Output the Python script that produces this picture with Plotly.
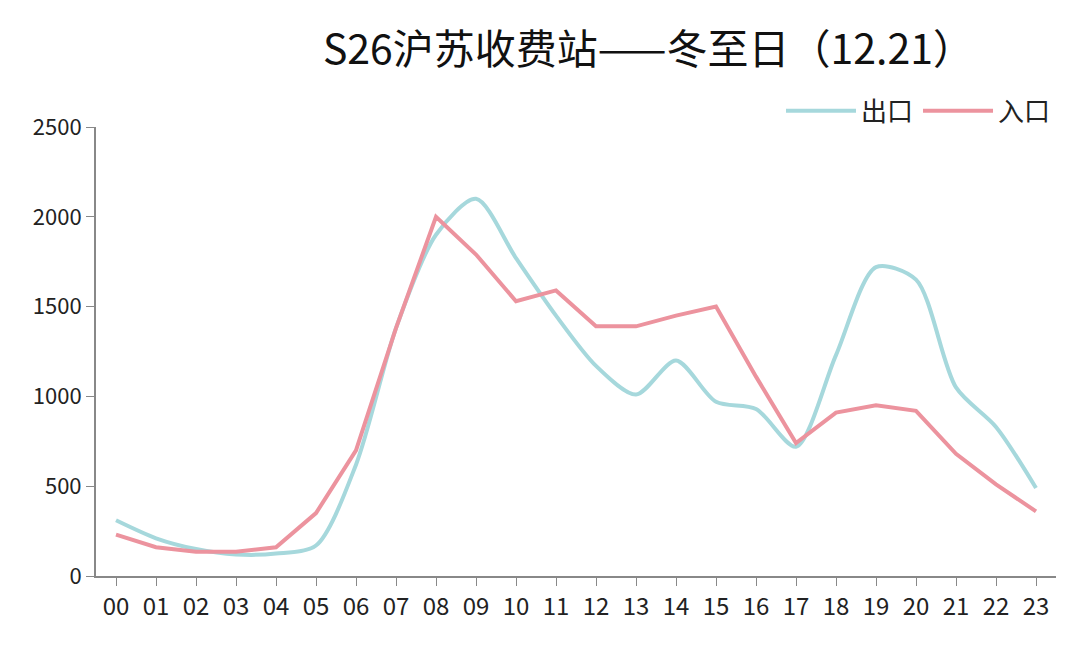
import plotly.graph_objects as go

horas = ['%02d' % h for h in range(24)]
saida = [310, 210, 150, 120, 125, 170, 620, 1380, 1900, 2100, 1770, 1450,
         1170, 1010, 1200, 970, 930, 720, 1230, 1720, 1650, 1050, 830, 490]
entrada = [230, 160, 135, 135, 160, 350, 700, 1380, 2000, 1790, 1530, 1590,
           1390, 1390, 1450, 1500, 1110, 740, 910, 950, 920, 680, 510, 360]

fig = go.Figure()
fig.add_trace(go.Scatter(x=horas, y=saida, name='出口', mode='lines',
                         line=dict(color='#a6d8dc', width=4, shape='spline', smoothing=0.8)))
fig.add_trace(go.Scatter(x=horas, y=entrada, name='入口', mode='lines',
                         line=dict(color='#ec939e', width=4)))

fig.update_layout(
    width=1080, height=645,
    paper_bgcolor='white', plot_bgcolor='white',
    font=dict(family='Noto Sans CJK SC, Noto Sans', size=22, color='#222'),
    title=dict(text='S26沪苏收费站——冬至日（12.21）', x=0.593, y=0.935,
               xanchor='center', yanchor='middle', font=dict(size=41, color='#111')),
    margin=dict(l=88, r=32, t=119, b=77, autoexpand=False),
    legend=dict(orientation='h', x=1, xanchor='right', y=1.036, yanchor='middle',
                font=dict(size=26), itemwidth=70),
    xaxis=dict(showline=True, linecolor='#888', linewidth=2, ticks='outside',
               ticklen=8, tickcolor='#888', showgrid=False, range=[-0.5, 23.5],
               tickfont=dict(size=24)),
    yaxis=dict(showline=True, linecolor='#888', linewidth=2, ticks='outside',
               ticklen=8, tickcolor='#888', showgrid=False, range=[0, 2500],
               dtick=500, zeroline=False, tickfont=dict(size=22)),
)

fig.write_html("out.html")
